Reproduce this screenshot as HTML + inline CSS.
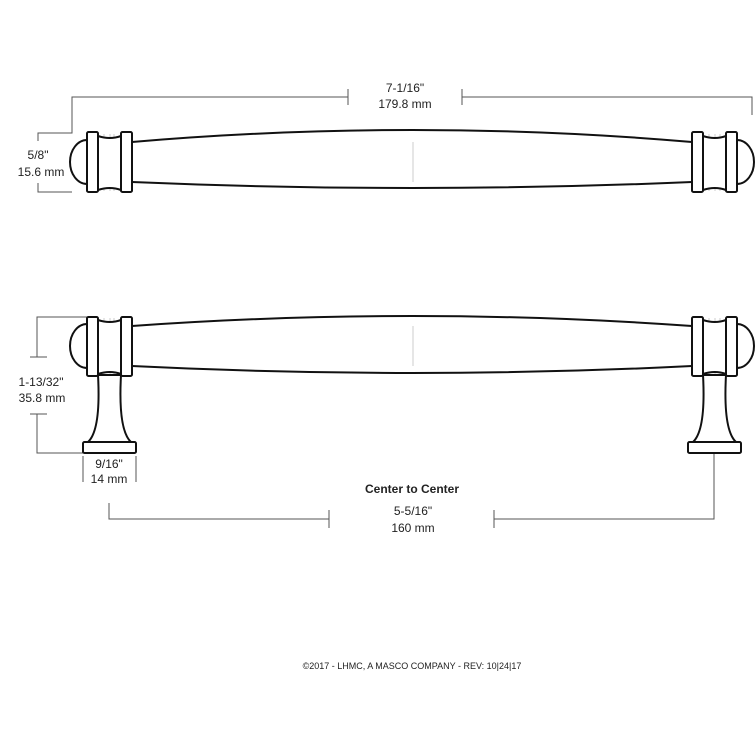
<!DOCTYPE html>
<html><head><style>body{margin:0;background:#fff}svg{display:block}text{font-family:"Liberation Sans",sans-serif;fill:#222}</style></head><body>
<svg width="755" height="755" viewBox="0 0 755 755">
<g fill="none" stroke="#555" stroke-width="1">
<path d="M348 97H72V133H38V141M38 183V192H72"/>
<path d="M348 89V105M462 89V105M462 97H752V115"/>
<path d="M37 357V317H87M30 357H47M30 414H47M37 414V453H83"/>
<path d="M83 456V482M136 456V482"/>
<path d="M109 503V519H329M329 510V528M494 510V528M494 519H714V453"/>
</g>
<g fill="none" stroke="#ccc" stroke-width="1">
<line x1="413" y1="133" x2="413" y2="187"/>
<line x1="413" y1="320" x2="413" y2="372"/>
<path d="M104 134V191M110 134V191M114 134V191M709 134V191M715 134V191M720 134V191"/>
<path d="M104 318V376M110 318V376M114 318V376M709 318V376M715 318V376M720 318V376"/>
</g>
<g fill="#fff" stroke="#111" stroke-width="2" stroke-linejoin="round">
<path d="M132 142Q413 118 692 142M132 182Q413 194 692 182"/>
<path d="M87 140A17 22 0 0 0 87 184Z"/>
<path d="M737 140A17 22 0 0 1 737 184Z"/>
<path d="M98 136Q110 140 121 136V190Q110 186 98 190Z"/>
<path d="M703 136Q715 140 726 136V190Q715 186 703 190Z"/>
<rect x="87" y="132" width="11" height="60" rx="1.5"/>
<rect x="121" y="132" width="11" height="60" rx="1.5"/>
<rect x="692" y="132" width="11" height="60" rx="1.5"/>
<rect x="726" y="132" width="11" height="60" rx="1.5"/>
<path d="M132 326Q413 306 692 326M132 366Q413 380 692 366"/>
<path d="M87 324A17 22 0 0 0 87 368Z"/>
<path d="M737 324A17 22 0 0 1 737 368Z"/>
<path d="M98 375Q101 430 88 442H131Q118 430 121 375Z"/>
<path d="M703 375Q706 430 693 442H736Q723 430 726 375Z"/>
<path d="M98 320Q110 324 121 320V374Q110 370 98 374Z"/>
<path d="M703 320Q715 324 726 320V374Q715 370 703 374Z"/>
<rect x="87" y="317" width="11" height="59" rx="1.5"/>
<rect x="121" y="317" width="11" height="59" rx="1.5"/>
<rect x="692" y="317" width="11" height="59" rx="1.5"/>
<rect x="726" y="317" width="11" height="59" rx="1.5"/>
<rect x="83" y="442" width="53" height="11" rx="1.5"/>
<rect x="688" y="442" width="53" height="11" rx="1.5"/>
</g>
<g font-size="12" text-anchor="middle">
<text x="405" y="92">7-1/16"</text>
<text x="405" y="108">179.8 mm</text>
<text x="38" y="159">5/8"</text>
<text x="41" y="176">15.6 mm</text>
<text x="41" y="386">1-13/32"</text>
<text x="42" y="402">35.8 mm</text>
<text x="109" y="468">9/16"</text>
<text x="109" y="483">14 mm</text>
<text x="412" y="493" font-weight="bold">Center to Center</text>
<text x="413" y="515">5-5/16"</text>
<text x="413" y="532">160 mm</text>
<text x="412" y="669" font-size="9">©2017 - LHMC, A MASCO COMPANY - REV: 10|24|17</text>
</g>
</svg>
</body></html>
